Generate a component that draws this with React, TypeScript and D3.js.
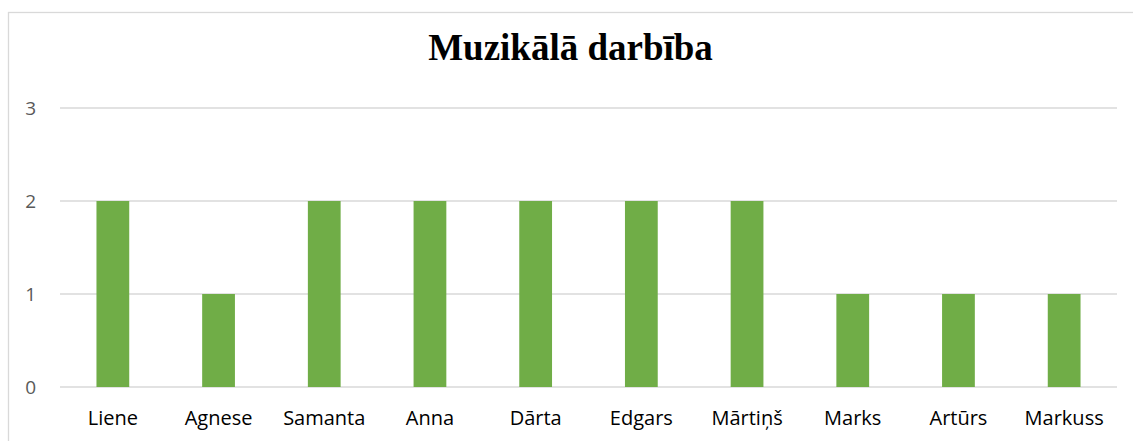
import React from "react";
import * as d3 from "d3";

const categories = ["Liene", "Agnese", "Samanta", "Anna", "Dārta", "Edgars", "Mārtiņš", "Marks", "Artūrs", "Markuss"];
const values = [2, 1, 2, 2, 2, 2, 2, 1, 1, 1];
const yTicks = [0, 1, 2, 3];
const title = "Muzikālā darbība";

const W = 1133;
const H = 441;
const plot = { left: 60, right: 1117, top: 108, bottom: 387 };

export default function App() {
  const x = d3.scaleBand<string>().domain(categories).range([plot.left, plot.right]).paddingInner(0.69).paddingOuter(0.345);
  const y = d3.scaleLinear().domain([0, 3]).range([plot.bottom, plot.top]);
  const font = "'Open Sans', Calibri, sans-serif";
  return (
    <svg width={W} height={H} style={{ position: "absolute", left: 0, top: 0, background: "#fff" }}>
      <rect x={8.5} y={12.5} width={W + 10} height={H + 10} fill="#fff" stroke="#d9d9d9" strokeWidth={1.3} />
      <text x={570.5} y={60} textAnchor="middle" fontFamily="'Liberation Serif', 'Times New Roman', serif" fontWeight="bold" fontSize={37} fill="#000">
        {title}
      </text>
      {yTicks.map((t) => (
        <g key={t}>
          <line x1={plot.left} x2={plot.right} y1={y(t)} y2={y(t)} stroke="#d9d9d9" strokeWidth={1.3} />
          <text x={36} y={y(t)} dy="0.36em" textAnchor="end" fontFamily={font} fontSize={19} fill="#595959">
            {t}
          </text>
        </g>
      ))}
      {categories.map((c, i) => (
        <rect key={c} x={x(c)} y={y(values[i])} width={x.bandwidth()} height={y(0) - y(values[i])} fill="#70ad47" />
      ))}
      {categories.map((c) => (
        <text key={c} x={(x(c) ?? 0) + x.bandwidth() / 2} y={425} textAnchor="middle" fontFamily={font} fontSize={20} fill="#000">
          {c}
        </text>
      ))}
    </svg>
  );
}
